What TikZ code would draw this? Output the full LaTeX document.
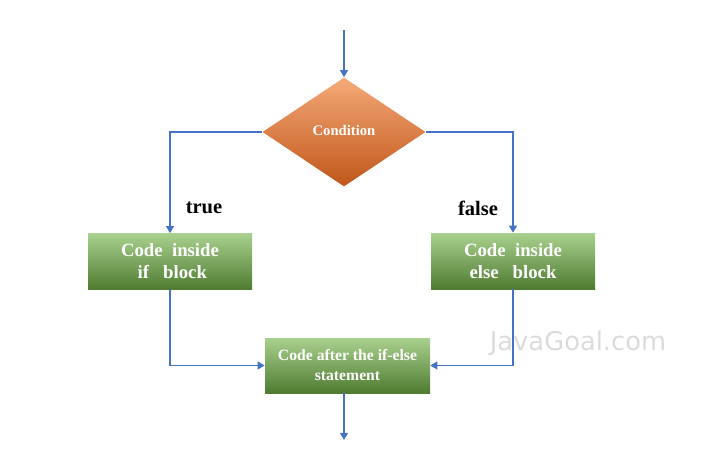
\documentclass[tikz,border=0pt]{standalone}
\usepackage{fontspec}
\setmainfont{Liberation Serif}
\newfontfamily\markfont{DejaVu Sans}
\usetikzlibrary{shapes.geometric,arrows.meta}

\definecolor{flowblue}{HTML}{4472C4}
\definecolor{orangetop}{HTML}{F4AA78}
\definecolor{orangemid}{HTML}{ED7D31}
\definecolor{orangebot}{HTML}{C0561A}
\definecolor{greentop}{HTML}{A9D18E}
\definecolor{greenmid}{HTML}{72AE4A}
\definecolor{greenbot}{HTML}{4F7B31}

\begin{document}
\begin{tikzpicture}[
  x=0.03cm, y=-0.03cm,
  decision/.style={diamond, aspect=1.5, inner sep=0pt, minimum width=163*0.03cm,
    minimum height=109*0.03cm, top color=orangetop, middle color=orangemid,
    bottom color=orangebot, text=white, font=\bfseries\fontsize{12.5}{14}\selectfont},
  block/.style={rectangle, inner sep=0pt, minimum width=164*0.03cm,
    minimum height=56*0.03cm, top color=greentop, middle color=greenmid,
    bottom color=greenbot, text=white, align=center},
  branch/.style={font=\bfseries\fontsize{17.5}{20}\selectfont},
  flow/.style={draw=flowblue, line width=1.6pt, -{Triangle[width=6.5pt,length=6pt]}}
]
  \useasboundingbox (0,0) rectangle (707,457);

  % Bloques del diagrama
  \node[decision] (cond) at (344,132) {\raisebox{3pt}{Condition}};
  \node[block, font=\bfseries\fontsize{16}{18.7}\selectfont] (ifb) at (170,261.5) {Code\ \ inside\\ \ if\ \ \ block};
  \node[block, font=\bfseries\fontsize{16}{18.7}\selectfont] (elseb) at (513,261) {Code\ \ inside\\ else\ \ \ block};
  \node[block, minimum width=165*0.03cm, minimum height=55*0.03cm,
        font=\bfseries\fontsize{13.4}{17}\selectfont] (after) at (347.5,365.5) {Code after the if-else\\ statement};

  % Extremos libres
  \coordinate (start) at (344,30);
  \coordinate (stop) at (344,440);

  % Etiquetas de las ramas
  \node[branch] (ltrue) at (204,208) {true};
  \node[branch] (lfalse) at (478,208) {false};

  % Marca de agua
  \node[text=gray!28, font=\markfont\fontsize{22}{24}\selectfont] (mark) at (578,343) {JavaGoal.com};

  % Conectores
  \draw[flow] (start) -- (cond.north);
  \draw[flow] (cond.west) -| (ifb.north);
  \draw[flow] (cond.east) -| (elseb.north);
  \draw[flow] (ifb.south) |- (after.west);
  \draw[flow] (elseb.south) |- (after.east);
  \draw[flow] (after.south -| stop) -- (stop);
\end{tikzpicture}
\end{document}
